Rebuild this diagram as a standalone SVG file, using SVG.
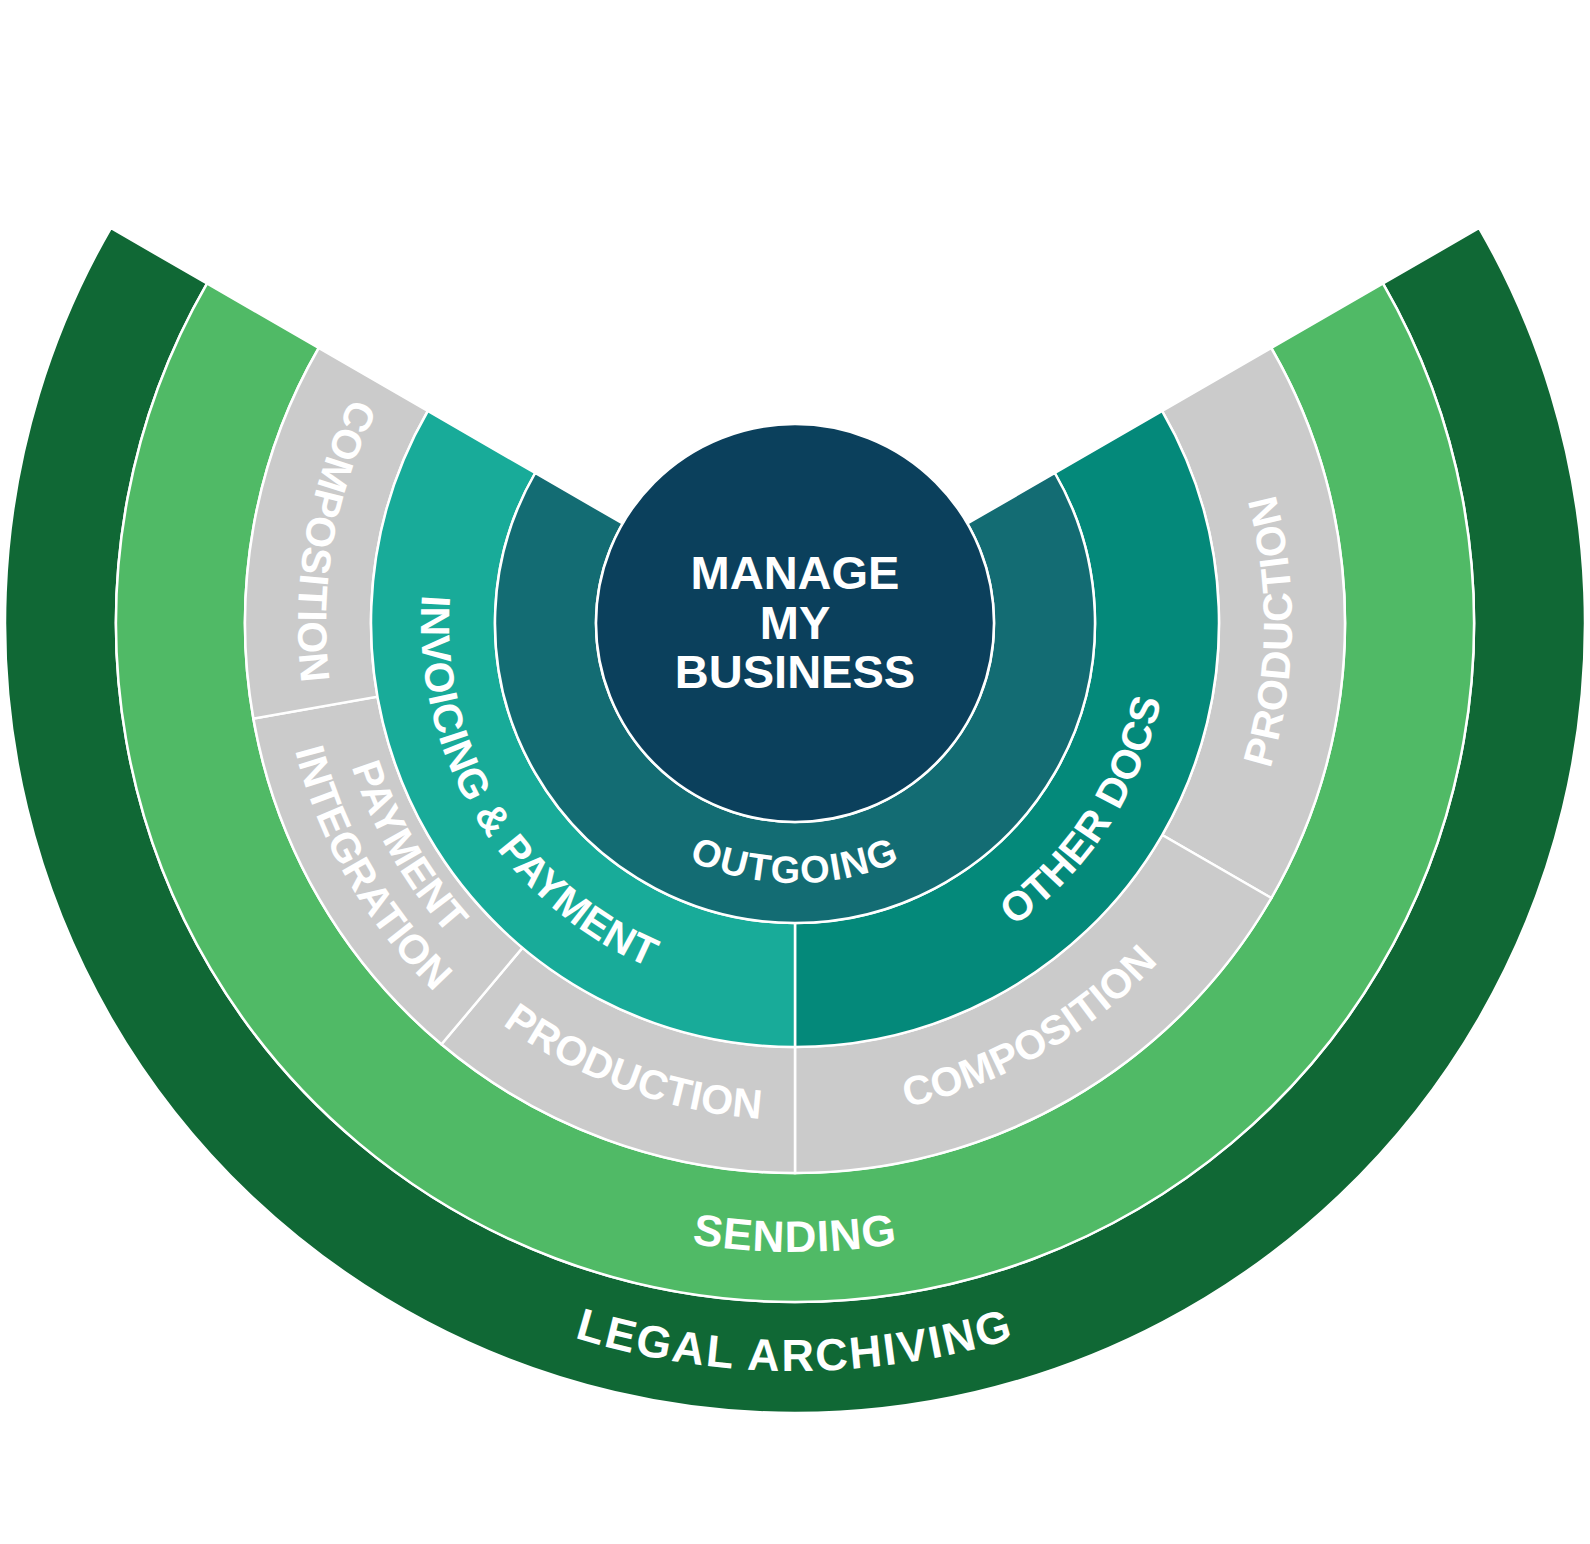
<svg xmlns="http://www.w3.org/2000/svg" xmlns:xlink="http://www.w3.org/1999/xlink" width="1590" height="1544" viewBox="0 0 1590 1544">
<style>
.seg{stroke:#ffffff;stroke-width:2.5;stroke-linejoin:miter}
.lbl{font-family:"Liberation Sans",Arial,Helvetica,sans-serif;font-weight:bold;fill:#ffffff}
.ring{font-size:41px;letter-spacing:0.3px}
</style>
<defs>
<path id="pOut" d="M569.83,753 A260,260 0 0 0 1020.17,753"/>
<path id="pInv" d="M466.64,443.97 A374,374 0 0 0 804.14,996.89"/>
<path id="pOth" d="M775.43,996.49 A374,374 0 0 0 1128.24,453.21"/>
<path id="pProdR" d="M1170.09,949.06 A497,497 0 0 0 1181.24,310.23"/>
<path id="pCompR" d="M708.70,1112.45 A497,497 0 0 0 1262.03,792.98"/>
<path id="pProdB" d="M364.59,871.5 A497,497 0 0 0 964.98,1090.03"/>
<path id="pCompL" d="M475.53,242.28 A497,497 0 0 0 364.59,871.5"/>
<path id="pPay1" d="M336.08,542.08 A466,466 0 0 0 635.62,1060.90"/>
<path id="pPay2" d="M286.84,533.40 A516,516 0 0 0 618.52,1107.88"/>
<path id="pSend" d="M390.69,1104.84 A629,629 0 0 0 1199.31,1104.84"/>
<path id="pLegal" d="M314.19,1196 A748,748 0 0 0 1275.81,1196"/>
</defs>
<rect width="1590" height="1544" fill="#ffffff"/>

<g id="legal-archiving">
<path class="seg" fill="#106835" d="M1479.16,228 A790,790 0 1 1 110.84,228 L206.97,283.5 A679,679 0 1 0 1383.03,283.5 Z"/>
<text class="lbl" font-size="45" letter-spacing="2.2"><textPath xlink:href="#pLegal" href="#pLegal" startOffset="50%" text-anchor="middle">LEGAL ARCHIVING</textPath></text>
</g>

<g id="sending">
<path class="seg" fill="#50ba66" d="M1383.03,283.5 A679,679 0 1 1 206.97,283.5 L318.69,348 A550,550 0 1 0 1271.31,348 Z"/>
<text class="lbl" font-size="44" letter-spacing="1"><textPath xlink:href="#pSend" href="#pSend" startOffset="50%" text-anchor="middle">SENDING</textPath></text>
</g>

<g id="production-right">
<path class="seg" fill="#cbcbcb" d="M1271.31,348 A550,550 0 0 1 1271.31,898 L1162.19,835 A424,424 0 0 0 1162.19,411 Z"/>
<text class="lbl ring"><textPath xlink:href="#pProdR" href="#pProdR" startOffset="50%" text-anchor="middle">PRODUCTION</textPath></text>
</g>

<g id="composition-right">
<path class="seg" fill="#cbcbcb" d="M1271.31,898 A550,550 0 0 1 795,1173 L795,1047 A424,424 0 0 0 1162.19,835 Z"/>
<text class="lbl ring"><textPath xlink:href="#pCompR" href="#pCompR" startOffset="50%" text-anchor="middle">COMPOSITION</textPath></text>
</g>

<g id="production-bottom">
<path class="seg" fill="#cbcbcb" d="M795,1173 A550,550 0 0 1 441.47,1044.32 L522.46,947.80 A424,424 0 0 0 795,1047 Z"/>
<text class="lbl ring"><textPath xlink:href="#pProdB" href="#pProdB" startOffset="50%" text-anchor="middle">PRODUCTION</textPath></text>
</g>

<g id="payment-integration">
<path class="seg" fill="#cbcbcb" d="M441.47,1044.32 A550,550 0 0 1 253.36,718.51 L377.44,696.63 A424,424 0 0 0 522.46,947.80 Z"/>
<text class="lbl ring"><textPath xlink:href="#pPay1" href="#pPay1" startOffset="50%" text-anchor="middle">PAYMENT</textPath></text>
<text class="lbl ring"><textPath xlink:href="#pPay2" href="#pPay2" startOffset="50%" text-anchor="middle">INTEGRATION</textPath></text>
</g>

<g id="composition-left">
<path class="seg" fill="#cbcbcb" d="M253.36,718.51 A550,550 0 0 1 318.69,348 L427.81,411 A424,424 0 0 0 377.44,696.63 Z"/>
<text class="lbl ring"><textPath xlink:href="#pCompL" href="#pCompL" startOffset="50%" text-anchor="middle">COMPOSITION</textPath></text>
</g>

<g id="other-docs">
<path class="seg" fill="#04897a" d="M1162.19,411 A424,424 0 0 1 795,1047 L795,923 A300,300 0 0 0 1054.81,473 Z"/>
<text class="lbl ring"><textPath xlink:href="#pOth" href="#pOth" startOffset="50%" text-anchor="middle">OTHER DOCS</textPath></text>
</g>

<g id="invoicing-payment">
<path class="seg" fill="#18ab99" d="M795,1047 A424,424 0 0 1 427.81,411 L535.19,473 A300,300 0 0 0 795,923 Z"/>
<text class="lbl ring"><textPath xlink:href="#pInv" href="#pInv" startOffset="50%" text-anchor="middle">INVOICING &amp; PAYMENT</textPath></text>
</g>

<g id="outgoing">
<path class="seg" fill="#136c73" d="M1054.81,473 A300,300 0 1 1 535.19,473 L622.66,523.5 A199,199 0 1 0 967.34,523.5 Z"/>
<text class="lbl" font-size="38" letter-spacing="1.5"><textPath xlink:href="#pOut" href="#pOut" startOffset="50%" text-anchor="middle">OUTGOING</textPath></text>
</g>

<g id="manage-my-business">
<circle cx="795" cy="623" r="199" fill="#0b405c" stroke="#ffffff" stroke-width="2.5"/>
<text class="lbl" font-size="47" text-anchor="middle"><tspan x="795" y="589">MANAGE</tspan><tspan x="795" y="639">MY</tspan><tspan x="795" y="688">BUSINESS</tspan></text>
</g>
</svg>
